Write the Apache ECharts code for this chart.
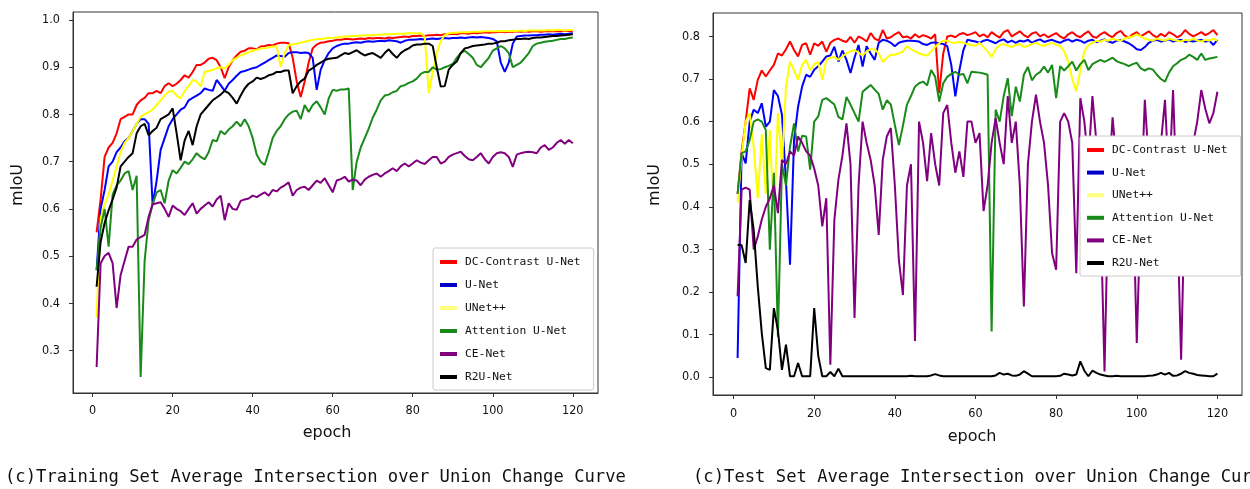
<!DOCTYPE html>
<html>
<head>
<meta charset="utf-8">
<script src="https://cdn.jsdelivr.net/npm/echarts@6/dist/echarts.min.js"></script>
<style>
html,body{margin:0;padding:0;background:#fff;}
#c{width:1250px;height:489px;}
</style>
</head>
<body>
<div id="c"></div>
<script>
const epochs = Array.from({length:120},(_, i)=>i+1);
const xTicks = [0,20,40,60,80,100,120];
const yTicksTrain = [0.3,0.4,0.5,0.6,0.7,0.8,0.9,1.0];
const yTicksTest = [0,0.1,0.2,0.3,0.4,0.5,0.6,0.7,0.8];
const seriesNames = ['DC-Contrast U-Net','U-Net','UNet++','Attention U-Net','CE-Net','R2U-Net'];

// Training set mIoU
const trainDC = [0.55,0.62,0.71,0.73,0.74,0.76,0.79,0.795,0.80,0.80,
0.82,0.83,0.835,0.845,0.845,0.85,0.845,0.86,0.866,0.86,
0.865,0.873,0.883,0.878,0.89,0.905,0.905,0.91,0.918,0.92,
0.915,0.90,0.877,0.90,0.915,0.925,0.933,0.935,0.94,0.94,
0.938,0.944,0.945,0.947,0.946,0.95,0.952,0.952,0.951,0.92,
0.87,0.837,0.87,0.91,0.94,0.948,0.952,0.953,0.955,0.956,
0.958,0.958,0.96,0.96,0.959,0.96,0.961,0.96,0.962,0.961,
0.962,0.962,0.961,0.963,0.962,0.963,0.964,0.965,0.964,0.966,
0.966,0.967,0.966,0.968,0.968,0.969,0.968,0.97,0.97,0.971,
0.97,0.972,0.972,0.971,0.973,0.972,0.973,0.974,0.973,0.974,
0.974,0.975,0.974,0.975,0.975,0.976,0.975,0.976,0.975,0.976,
0.976,0.975,0.976,0.977,0.976,0.977,0.976,0.977,0.977,0.976];
const trainUNet = [0.47,0.60,0.64,0.69,0.70,0.72,0.73,0.743,0.75,0.765,
0.78,0.79,0.79,0.78,0.608,0.66,0.725,0.75,0.775,0.79,
0.80,0.81,0.815,0.83,0.835,0.84,0.845,0.855,0.852,0.85,
0.873,0.862,0.85,0.865,0.873,0.882,0.89,0.892,0.895,0.898,
0.90,0.905,0.91,0.915,0.92,0.925,0.924,0.922,0.93,0.932,
0.932,0.93,0.931,0.93,0.92,0.852,0.895,0.915,0.93,0.94,
0.945,0.948,0.95,0.95,0.952,0.953,0.952,0.954,0.955,0.954,
0.955,0.956,0.955,0.957,0.956,0.955,0.952,0.956,0.958,0.958,
0.959,0.96,0.959,0.96,0.961,0.96,0.961,0.962,0.961,0.962,
0.962,0.963,0.962,0.963,0.964,0.963,0.964,0.963,0.962,0.96,
0.955,0.91,0.89,0.91,0.95,0.965,0.966,0.967,0.967,0.968,
0.968,0.969,0.969,0.97,0.969,0.97,0.971,0.97,0.971,0.972];
const trainUNetPP = [0.37,0.58,0.61,0.63,0.66,0.69,0.72,0.74,0.75,0.765,
0.78,0.795,0.80,0.805,0.81,0.82,0.83,0.84,0.848,0.85,
0.84,0.834,0.85,0.86,0.873,0.87,0.859,0.89,0.892,0.894,
0.898,0.90,0.898,0.905,0.915,0.92,0.925,0.928,0.932,0.935,
0.937,0.94,0.94,0.942,0.944,0.944,0.901,0.93,0.947,0.948,
0.95,0.952,0.954,0.956,0.958,0.96,0.96,0.961,0.962,0.962,
0.963,0.964,0.965,0.965,0.966,0.966,0.967,0.967,0.968,0.968,
0.969,0.969,0.97,0.97,0.97,0.971,0.971,0.971,0.972,0.972,
0.972,0.972,0.965,0.845,0.89,0.93,0.955,0.968,0.972,0.973,
0.973,0.974,0.974,0.974,0.975,0.975,0.975,0.976,0.976,0.976,
0.976,0.977,0.976,0.977,0.977,0.977,0.978,0.977,0.978,0.978,
0.978,0.978,0.978,0.979,0.978,0.979,0.979,0.978,0.979,0.979];
const trainAtt = [0.47,0.56,0.60,0.52,0.63,0.65,0.66,0.675,0.68,0.64,
0.67,0.244,0.49,0.576,0.61,0.635,0.64,0.612,0.66,0.682,
0.675,0.687,0.70,0.695,0.705,0.718,0.71,0.705,0.72,0.746,
0.743,0.765,0.758,0.768,0.775,0.785,0.775,0.79,0.775,0.75,
0.715,0.70,0.693,0.72,0.75,0.765,0.775,0.79,0.80,0.806,
0.808,0.79,0.82,0.805,0.82,0.828,0.815,0.80,0.834,0.852,
0.85,0.853,0.853,0.855,0.64,0.70,0.73,0.75,0.77,0.793,
0.81,0.83,0.84,0.842,0.847,0.85,0.86,0.862,0.867,0.87,
0.876,0.886,0.89,0.89,0.90,0.895,0.896,0.90,0.903,0.907,
0.92,0.93,0.935,0.928,0.92,0.905,0.90,0.91,0.92,0.935,
0.94,0.945,0.94,0.93,0.90,0.905,0.91,0.92,0.93,0.945,
0.95,0.952,0.954,0.955,0.956,0.958,0.96,0.96,0.962,0.963];
const trainCE = [0.265,0.485,0.50,0.507,0.485,0.39,0.46,0.49,0.52,0.52,
0.535,0.54,0.545,0.583,0.61,0.612,0.614,0.60,0.583,0.607,
0.60,0.595,0.587,0.60,0.612,0.59,0.60,0.607,0.614,0.605,
0.62,0.628,0.576,0.612,0.60,0.598,0.617,0.62,0.622,0.628,
0.625,0.63,0.635,0.628,0.64,0.637,0.645,0.65,0.656,0.628,
0.64,0.645,0.647,0.64,0.65,0.66,0.655,0.665,0.65,0.635,
0.66,0.663,0.668,0.658,0.662,0.66,0.65,0.662,0.668,0.672,
0.675,0.668,0.675,0.68,0.686,0.68,0.69,0.696,0.69,0.696,
0.703,0.698,0.695,0.703,0.71,0.71,0.696,0.70,0.71,0.715,
0.718,0.721,0.712,0.705,0.703,0.71,0.718,0.705,0.696,0.71,
0.718,0.72,0.718,0.71,0.689,0.715,0.718,0.72,0.721,0.72,
0.718,0.73,0.735,0.725,0.73,0.74,0.746,0.738,0.746,0.739];
const trainR2U = [0.435,0.53,0.57,0.597,0.62,0.645,0.69,0.70,0.71,0.718,
0.76,0.775,0.78,0.756,0.765,0.772,0.79,0.795,0.80,0.813,
0.76,0.703,0.745,0.765,0.735,0.775,0.80,0.81,0.82,0.83,
0.836,0.842,0.85,0.845,0.835,0.823,0.84,0.855,0.865,0.87,
0.878,0.875,0.878,0.883,0.885,0.89,0.89,0.893,0.893,0.845,
0.86,0.87,0.876,0.893,0.898,0.905,0.91,0.915,0.918,0.919,
0.92,0.925,0.93,0.928,0.932,0.936,0.93,0.925,0.928,0.93,
0.925,0.92,0.93,0.938,0.928,0.92,0.93,0.936,0.94,0.946,
0.948,0.948,0.95,0.95,0.945,0.90,0.859,0.86,0.895,0.905,
0.912,0.93,0.94,0.942,0.945,0.946,0.947,0.948,0.95,0.95,
0.952,0.955,0.955,0.957,0.958,0.96,0.96,0.961,0.96,0.962,
0.963,0.963,0.964,0.965,0.966,0.966,0.967,0.968,0.969,0.97];

// Test set mIoU
const testDC = [0.43,0.53,0.60,0.678,0.651,0.698,0.72,0.706,0.72,0.733,
0.76,0.755,0.77,0.788,0.768,0.753,0.78,0.784,0.757,0.784,
0.778,0.788,0.764,0.785,0.792,0.795,0.79,0.787,0.799,0.785,
0.80,0.795,0.788,0.808,0.795,0.79,0.815,0.795,0.798,0.805,
0.81,0.798,0.80,0.795,0.805,0.798,0.803,0.80,0.795,0.805,
0.667,0.76,0.80,0.802,0.798,0.805,0.808,0.803,0.806,0.81,
0.80,0.805,0.798,0.81,0.803,0.797,0.81,0.815,0.80,0.806,
0.812,0.803,0.798,0.807,0.81,0.80,0.805,0.798,0.803,0.808,
0.80,0.795,0.805,0.81,0.802,0.798,0.806,0.812,0.80,0.797,
0.805,0.81,0.803,0.798,0.808,0.813,0.802,0.797,0.805,0.81,
0.80,0.806,0.812,0.803,0.798,0.806,0.80,0.81,0.805,0.798,
0.803,0.815,0.806,0.80,0.805,0.81,0.803,0.808,0.815,0.803];
const testUNet = [0.045,0.526,0.502,0.60,0.628,0.62,0.643,0.588,0.60,0.674,
0.66,0.616,0.46,0.264,0.557,0.635,0.682,0.71,0.705,0.722,
0.73,0.741,0.753,0.755,0.776,0.741,0.767,0.745,0.714,0.75,
0.78,0.729,0.777,0.76,0.745,0.785,0.792,0.79,0.785,0.777,
0.785,0.788,0.79,0.79,0.789,0.788,0.782,0.78,0.785,0.786,
0.784,0.782,0.777,0.733,0.659,0.72,0.768,0.792,0.79,0.788,
0.785,0.79,0.792,0.788,0.784,0.79,0.793,0.786,0.79,0.785,
0.79,0.788,0.792,0.785,0.79,0.793,0.787,0.79,0.792,0.788,
0.785,0.79,0.793,0.788,0.792,0.79,0.785,0.79,0.792,0.787,
0.79,0.793,0.788,0.785,0.79,0.792,0.788,0.784,0.778,0.77,
0.768,0.775,0.785,0.79,0.792,0.788,0.79,0.793,0.788,0.79,
0.792,0.787,0.79,0.788,0.79,0.792,0.788,0.79,0.78,0.792];
const testUNetPP = [0.41,0.52,0.60,0.62,0.54,0.42,0.57,0.43,0.58,0.365,
0.62,0.50,0.682,0.741,0.72,0.698,0.733,0.745,0.72,0.735,
0.74,0.698,0.745,0.75,0.752,0.745,0.753,0.76,0.765,0.768,
0.762,0.755,0.765,0.77,0.77,0.76,0.74,0.75,0.757,0.757,
0.76,0.765,0.777,0.77,0.765,0.76,0.757,0.755,0.765,0.775,
0.784,0.79,0.79,0.786,0.785,0.787,0.785,0.782,0.78,0.778,
0.785,0.775,0.765,0.752,0.77,0.78,0.782,0.778,0.775,0.78,
0.782,0.775,0.778,0.782,0.785,0.78,0.778,0.782,0.785,0.78,
0.778,0.765,0.74,0.70,0.671,0.72,0.765,0.78,0.785,0.79,
0.788,0.792,0.79,0.795,0.792,0.79,0.795,0.798,0.80,0.805,
0.80,0.795,0.792,0.79,0.795,0.792,0.79,0.795,0.792,0.79,
0.788,0.792,0.79,0.795,0.79,0.788,0.792,0.79,0.795,0.79];
const testAtt = [0.43,0.526,0.53,0.557,0.60,0.605,0.60,0.58,0.299,0.48,
0.095,0.50,0.45,0.541,0.596,0.53,0.567,0.565,0.487,0.60,
0.612,0.651,0.655,0.648,0.64,0.611,0.605,0.658,0.64,0.62,
0.60,0.67,0.678,0.686,0.675,0.665,0.628,0.65,0.64,0.592,
0.545,0.59,0.64,0.66,0.682,0.69,0.694,0.685,0.721,0.705,
0.647,0.69,0.705,0.712,0.717,0.71,0.712,0.69,0.717,0.716,
0.715,0.713,0.71,0.107,0.628,0.60,0.66,0.702,0.613,0.682,
0.647,0.71,0.728,0.697,0.71,0.716,0.729,0.715,0.733,0.655,
0.73,0.72,0.73,0.741,0.72,0.735,0.745,0.721,0.735,0.74,
0.745,0.74,0.745,0.75,0.742,0.738,0.735,0.73,0.735,0.738,
0.725,0.72,0.725,0.722,0.71,0.70,0.694,0.715,0.73,0.737,
0.745,0.749,0.757,0.752,0.745,0.76,0.745,0.748,0.75,0.752];
const testCE = [0.19,0.44,0.445,0.44,0.30,0.33,0.37,0.40,0.42,0.45,
0.385,0.51,0.50,0.53,0.52,0.565,0.55,0.53,0.52,0.49,
0.45,0.354,0.42,0.029,0.37,0.463,0.52,0.596,0.50,0.139,
0.45,0.60,0.55,0.51,0.45,0.334,0.51,0.565,0.585,0.45,
0.275,0.193,0.45,0.50,0.085,0.60,0.55,0.46,0.573,0.50,
0.45,0.62,0.639,0.55,0.48,0.53,0.47,0.60,0.60,0.55,
0.573,0.39,0.45,0.55,0.608,0.55,0.50,0.66,0.55,0.60,
0.45,0.166,0.50,0.60,0.663,0.60,0.55,0.45,0.291,0.252,
0.60,0.62,0.60,0.55,0.244,0.655,0.60,0.50,0.66,0.55,
0.40,0.013,0.45,0.61,0.50,0.30,0.40,0.55,0.45,0.08,
0.40,0.651,0.50,0.40,0.50,0.55,0.651,0.45,0.674,0.40,
0.041,0.45,0.50,0.55,0.60,0.674,0.63,0.596,0.62,0.67];
const testR2U = [0.31,0.31,0.268,0.416,0.345,0.213,0.103,0.021,0.017,0.162,
0.11,0.017,0.076,0.002,0.002,0.033,0.002,0.002,0.002,0.162,
0.05,0.002,0.002,0.012,0.002,0.02,0.002,0.002,0.002,0.002,
0.002,0.002,0.002,0.002,0.002,0.002,0.002,0.002,0.002,0.002,
0.002,0.002,0.002,0.003,0.002,0.002,0.002,0.002,0.004,0.007,
0.004,0.002,0.002,0.002,0.002,0.002,0.002,0.002,0.002,0.002,
0.002,0.002,0.002,0.002,0.004,0.01,0.006,0.008,0.004,0.003,
0.006,0.014,0.008,0.002,0.002,0.002,0.002,0.002,0.002,0.002,
0.003,0.008,0.006,0.004,0.006,0.037,0.015,0.002,0.015,0.01,
0.006,0.004,0.002,0.002,0.003,0.002,0.002,0.002,0.002,0.002,
0.002,0.002,0.003,0.004,0.006,0.01,0.006,0.01,0.003,0.004,
0.008,0.014,0.01,0.008,0.005,0.004,0.003,0.002,0.002,0.008];

const colors = ['#ff0000','#0000ff','#ffff00','#1a8a1a','#800080','#000000'];
const legendColors = ['#ff0000','#0000c8','#ffff80','#1a8a1a','#800080','#000000'];
const trainData = [trainDC,trainUNet,trainUNetPP,trainAtt,trainCE,trainR2U];
const testData = [testDC,testUNet,testUNetPP,testAtt,testCE,testR2U];

const tickFont = "'Liberation Sans Narrow','DejaVu Sans Condensed','Liberation Sans',sans-serif";
const monoFont = "'DejaVu Sans Mono','Liberation Mono',monospace";

function xAxisCfg(grid, min, max, margin){
  return {
    type:'value', gridIndex:grid, min:min, max:max,
    axisLine:{show:true, onZero:false, lineStyle:{color:'#333', width:1}},
    axisTick:{show:true, inside:false, length:4, customValues:xTicks, lineStyle:{color:'#333'}},
    axisLabel:{show:true, customValues:xTicks, margin:margin, color:'#111', fontSize:12.5, fontFamily:tickFont},
    splitLine:{show:false}
  };
}
function yAxisCfg(grid, min, max, ticks){
  return {
    type:'value', gridIndex:grid, min:min, max:max,
    axisLine:{show:true, onZero:false, lineStyle:{color:'#333', width:1}},
    axisTick:{show:true, inside:false, length:4, customValues:ticks, lineStyle:{color:'#333'}},
    axisLabel:{show:true, customValues:ticks, margin:13, color:'#111', fontSize:12.5, fontFamily:tickFont,
      formatter:function(v){return v.toFixed(1);}},
    splitLine:{show:false}
  };
}

const series = [];
seriesNames.forEach(function(name, k){
  series.push({
    name:name, type:'line', xAxisIndex:0, yAxisIndex:0,
    data: epochs.map(function(e,i){return [e, trainData[k][i]];}),
    showSymbol:false, symbol:'none', lineStyle:{width:2, color:colors[k]}, itemStyle:{color:legendColors[k]},
    z:2+k, animation:false
  });
  series.push({
    name:name, type:'line', xAxisIndex:1, yAxisIndex:1,
    data: epochs.map(function(e,i){return [e, testData[k][i]];}),
    showSymbol:false, symbol:'none', lineStyle:{width:2, color:colors[k]}, itemStyle:{color:legendColors[k]},
    z:2+k, animation:false
  });
});

function legendCfg(left, top, gap){
  return {
    data: seriesNames, orient:'vertical', left:left, top:top,
    backgroundColor:'#ffffff', borderColor:'#cccccc', borderWidth:1, borderRadius:2,
    padding:[7,13,6,7], itemGap:gap, itemWidth:17, itemHeight:4, icon:'rect',
    textStyle:{fontFamily:monoFont, fontSize:11.3, color:'#111', lineHeight:14, padding:[0,0,0,3]},
    selectedMode:false, z:20
  };
}

const chart = echarts.init(document.getElementById('c'), null, {renderer:'canvas'});
chart.setOption({
  animation:false,
  backgroundColor:'#ffffff',
  grid:[
    {left:73, top:12, width:525, height:381, show:true, borderColor:'#333', borderWidth:1, backgroundColor:'transparent'},
    {left:713, top:13, width:529, height:382, show:true, borderColor:'#333', borderWidth:1, backgroundColor:'transparent'}
  ],
  xAxis:[ xAxisCfg(0, -4.9, 126.3, 11), xAxisCfg(1, -5.1, 126.1, 12) ],
  yAxis:[ yAxisCfg(0, 0.21, 1.017, yTicksTrain), yAxisCfg(1, -0.042, 0.855, yTicksTest) ],
  legend:[ legendCfg(433, 248, 9), legendCfg(1080, 136, 8.6) ],
  series: series,
  graphic:[
    {type:'text', x:18, y:185, rotation:Math.PI/2, style:{text:'mIoU', font:"16px 'DejaVu Sans', sans-serif", fill:'#111', textAlign:'center', textVerticalAlign:'middle'}},
    {type:'text', x:655, y:185, rotation:Math.PI/2, style:{text:'mIoU', font:"16px 'DejaVu Sans', sans-serif", fill:'#111', textAlign:'center', textVerticalAlign:'middle'}},
    {type:'text', x:327, y:433, style:{text:'epoch', font:"16px 'DejaVu Sans', sans-serif", fill:'#111', textAlign:'center', textVerticalAlign:'middle'}},
    {type:'text', x:972, y:437, style:{text:'epoch', font:"16px 'DejaVu Sans', sans-serif", fill:'#111', textAlign:'center', textVerticalAlign:'middle'}},
    {type:'text', x:5, y:478, style:{text:'(c)Training Set Average Intersection over Union Change Curve', font:"17.2px "+monoFont, fill:'#111', textAlign:'left', textVerticalAlign:'middle'}},
    {type:'text', x:693, y:478, style:{text:'(c)Test Set Average Intersection over Union Change Curve', font:"17.2px "+monoFont, fill:'#111', textAlign:'left', textVerticalAlign:'middle'}}
  ]
});
</script>
</body>
</html>
